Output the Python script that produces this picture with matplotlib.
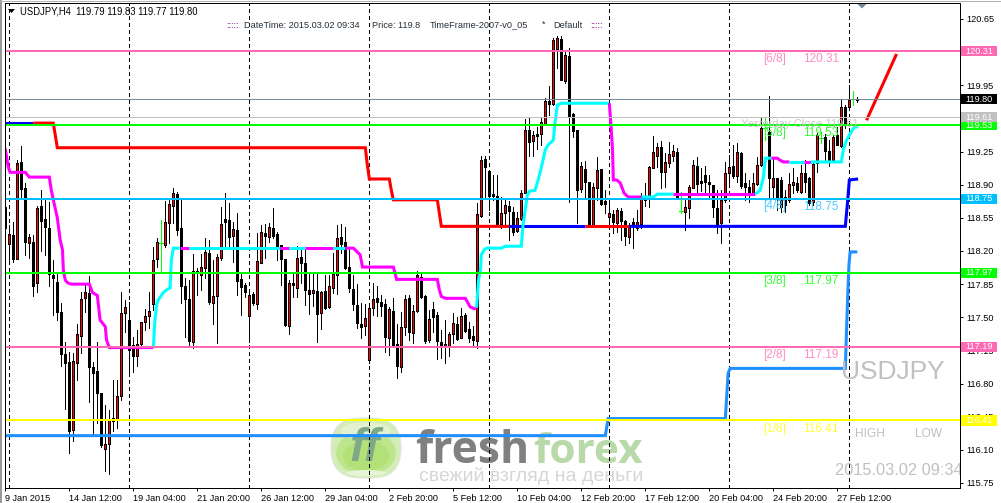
import matplotlib
matplotlib.use('Agg')
import matplotlib.pyplot as plt
import matplotlib.transforms as mtransforms
from matplotlib.patches import Ellipse, Rectangle, Polygon, FancyBboxPatch

plt.rcParams['font.family'] = ['Liberation Sans', 'DejaVu Sans']

# H4 candles
opens = [118.66,118.27,118.37,118.11,119.14,118.86,118.28,118.29,117.86,118.67,
         118.54,118.44,117.95,117.87,117.56,117.11,117.03,116.31,117.02,117.30,
         117.70,117.76,116.97,116.93,116.70,116.11,116.16,116.44,116.41,116.67,
         117.54,117.47,117.21,117.09,117.22,117.45,117.51,117.64,118.11,118.28,
         118.26,118.50,118.67,118.80,118.44,117.83,117.69,117.24,117.99,117.95,
         118.02,118.18,117.65,117.72,118.13,118.54,118.53,118.36,118.42,117.90,
         117.84,117.51,117.75,117.64,118.07,118.39,118.35,118.44,118.38,118.26,
         118.11,117.41,117.86,117.81,118.14,118.07,117.79,117.76,117.78,117.54,
         117.78,117.61,117.81,117.95,118.35,118.29,118.03,117.80,117.63,117.43,
         117.41,117.05,117.60,117.70,117.66,117.64,117.28,117.57,117.22,116.97,
         117.40,117.70,117.33,117.57,117.93,117.72,117.26,117.59,117.52,117.24,
         117.20,117.20,117.32,117.43,117.28,117.52,117.38,117.30,117.25,118.57,
         119.17,119.04,118.80,118.78,118.48,118.60,118.67,118.61,118.41,118.54,
         118.81,119.48,119.36,119.43,119.43,119.54,119.78,119.75,120.33,120.44,
         119.99,120.26,119.65,119.48,118.85,119.07,118.93,118.47,118.86,119.07,
         118.73,118.56,118.59,118.50,118.62,118.52,118.35,118.51,118.44,118.48,
         118.78,118.77,119.08,119.20,119.30,119.03,119.13,119.20,119.24,118.62,
         118.61,118.65,118.86,119.10,118.94,119.00,118.93,118.90,118.65,118.50,
         118.74,119.02,119.10,118.99,119.23,118.92,118.88,118.81,118.91,119.11,
         119.50,119.46,118.88,118.97,118.95,118.77,118.74,118.90,118.92,118.82,
         119.02,118.97,118.72,119.13,119.39,119.40,119.26,119.16,119.42,119.31,
         119.72,119.72,119.80,119.79]
highs = [118.66,118.47,118.51,119.16,119.31,118.92,118.38,118.37,118.67,118.84,
         118.74,118.72,118.10,117.96,117.65,117.24,117.13,117.12,117.43,117.77,
         117.86,117.94,117.03,117.24,116.70,116.57,116.52,116.84,116.84,117.77,
         117.68,117.66,117.29,117.37,117.45,117.59,117.77,118.24,118.34,118.53,
         118.73,118.74,118.86,118.82,118.75,117.91,117.89,118.17,118.02,118.17,
         118.34,118.32,118.10,118.17,118.66,118.81,118.71,118.51,118.60,117.97,
         117.86,117.77,117.77,118.39,118.47,118.48,118.50,118.65,118.40,118.26,
         118.11,117.89,117.97,118.25,118.23,118.21,117.97,117.97,117.97,117.78,
         117.95,117.95,118.18,118.47,118.48,118.45,118.23,117.95,117.85,117.65,
         117.64,117.61,117.86,117.83,117.73,117.69,117.61,117.70,117.43,117.56,
         117.73,117.73,117.63,117.99,117.98,117.73,117.58,117.66,117.56,117.37,
         117.47,117.34,117.54,117.50,117.60,117.54,117.45,117.41,118.71,119.20,
         119.20,119.04,119.00,119.00,118.77,118.76,118.73,118.66,118.61,118.84,
         119.59,119.60,119.47,119.51,119.60,119.82,119.94,120.45,120.47,120.47,
         120.31,120.34,119.66,119.48,119.14,119.15,118.93,118.92,119.19,119.07,
         118.84,118.74,118.63,118.65,118.65,118.53,118.50,118.55,118.63,118.81,
         118.92,119.10,119.41,119.34,119.36,119.23,119.35,119.32,119.29,118.82,
         118.74,118.90,119.16,119.19,119.08,119.10,119.00,118.90,118.84,118.84,
         119.14,119.21,119.32,119.34,119.25,119.02,118.95,119.02,119.19,119.60,
         119.60,119.84,119.19,118.97,118.98,118.84,119.02,119.08,118.98,119.11,
         119.16,118.98,119.14,119.45,119.46,119.43,119.37,119.42,119.51,119.79,
         119.74,119.95,119.89,119.83]
lows = [118.44,118.10,118.08,118.11,118.76,118.16,118.13,117.72,117.77,118.20,
        118.16,117.83,117.52,117.47,116.99,116.53,116.07,116.19,116.84,117.12,
        117.56,116.60,116.26,116.38,116.13,115.88,115.84,116.30,116.33,116.63,
        117.34,116.92,116.92,116.99,117.21,117.37,117.39,117.58,118.03,117.98,
        118.24,118.28,118.50,118.37,117.65,117.29,117.21,117.18,117.73,117.79,
        117.91,117.64,117.43,117.23,118.10,118.23,118.23,118.08,117.73,117.52,
        117.71,117.24,117.63,117.59,118.07,118.13,118.29,118.34,118.10,117.84,
        117.41,117.32,117.71,117.71,117.86,117.63,117.53,117.62,117.24,117.38,
        117.59,117.60,117.76,117.75,118.18,118.01,117.77,117.58,117.39,117.28,
        117.31,117.02,117.52,117.51,117.51,117.13,117.10,117.19,116.86,116.92,
        117.31,117.26,117.23,117.56,117.70,117.23,117.24,117.34,117.06,117.07,
        117.02,117.09,117.23,117.26,117.28,117.34,117.24,117.21,117.18,118.56,
        118.77,118.63,118.74,118.48,118.44,118.45,118.32,118.37,118.40,118.53,
        118.81,119.20,119.20,119.28,119.32,119.53,119.64,119.74,120.13,120.01,
        119.97,118.72,119.40,118.50,118.82,118.76,118.47,118.47,118.74,118.69,
        118.60,118.47,118.39,118.40,118.32,118.26,118.28,118.23,118.42,118.44,
        118.67,118.66,119.08,119.09,118.86,118.88,119.09,119.15,118.76,118.60,
        118.42,118.55,118.86,118.79,118.83,118.82,118.77,118.56,118.39,118.28,
        118.72,118.92,118.97,118.93,118.86,118.74,118.72,118.79,118.90,119.10,
        119.37,118.77,118.77,118.63,118.61,118.61,118.72,118.81,118.82,118.81,
        118.82,118.69,118.69,119.03,119.34,119.16,119.10,119.14,119.32,119.30,
        119.50,119.71,119.74,119.77]
closes = [118.44,118.38,118.11,119.13,118.85,118.29,118.35,117.83,118.65,118.52,
          118.45,117.96,117.91,117.56,117.11,117.02,116.30,117.04,117.32,117.69,
          117.77,116.97,116.91,116.70,116.15,116.16,116.43,116.40,116.67,117.54,
          117.61,117.15,117.09,117.22,117.45,117.51,117.57,118.10,118.29,118.28,
          118.51,118.70,118.81,118.42,117.83,117.69,117.25,117.99,117.98,118.03,
          118.19,117.66,117.72,118.14,118.48,118.51,118.35,118.43,117.88,117.82,
          117.77,117.73,117.65,118.09,118.40,118.36,118.45,118.36,118.25,118.11,
          117.42,117.86,117.84,118.13,118.07,117.79,117.75,117.79,117.53,117.77,
          117.60,117.83,117.96,118.34,118.27,118.02,117.81,117.64,117.44,117.40,
          117.49,117.60,117.69,117.66,117.62,117.29,117.59,117.21,116.99,117.40,
          117.69,117.34,117.57,117.95,117.71,117.25,117.48,117.50,117.25,117.19,
          117.22,117.32,117.44,117.27,117.51,117.35,117.28,117.26,118.59,119.16,
          119.09,118.78,118.78,118.48,118.60,118.69,118.62,118.40,118.55,118.81,
          119.48,119.35,119.42,119.41,119.56,119.78,119.75,120.43,120.45,120.01,
          120.27,119.63,119.47,118.84,119.10,118.93,118.48,118.88,119.05,118.70,
          118.70,118.60,118.51,118.63,118.52,118.36,118.46,118.48,118.51,118.75,
          118.74,119.09,119.25,119.30,119.03,119.14,119.22,119.26,118.77,118.62,
          118.66,118.88,119.11,118.91,118.92,118.93,118.91,118.66,118.48,118.74,
          119.02,119.09,118.99,119.25,118.89,118.88,118.81,118.92,119.11,119.50,
          119.50,118.97,118.97,118.77,118.66,118.69,118.91,118.93,118.84,119.02,
          118.93,118.71,119.12,119.42,119.39,119.26,119.16,119.40,119.32,119.72,
          119.55,119.79,119.80,119.80]

# murrey levels
level_prices = [120.31, 119.53, 118.75, 117.97, 117.19, 116.41]
level_colours = ['#FF69B4', '#00FF00', '#00BFFF', '#00FF00', '#FF69B4', '#FFFF00']
level_names = ['[6/8]', '[5/8]', '[4/8]', '[3/8]', '[2/8]', '[1/8]']
last_price = 119.80
yesterday_close = 119.61

# fast line (magenta falling, cyan rising), each key colours the segment leaving that vertex
fast_i = [0,0.7,1.2,5,6,11,11.5,12,13,13.7,14.3,14.5,15,15.7,16.5,21,21.8,23,23.7,25,25.3,26,
          37,37.4,37.8,38.2,39.5,40.3,41.2,41.5,42,
          43.6,46,68.7,71,75,82,85,
          87,88.7,89.3,90.3,97,97.4,97.8,108,108.5,109,110,115,116.2,117.2,
          117.8,118.3,118.8,119,119.7,120.3,124,125,129,129.4,130.5,131,132.4,133.2,134,135,135.7,137,137.4,138,139,
          151,151.4,151.8,152,152.8,153.7,154.7,155.7,
          159,162,163,
          167,
          187.5,188.7,189.5,190,
          191.5,193,193.6,194.5,
          196,
          199.7,
          201.3,209,209.5,210.3,211.5,212.3,213.2]
fast_p = [119.28,119.09,119.03,119.03,118.98,118.98,118.84,118.74,118.55,118.32,118.21,118.00,117.89,
          117.86,117.85,117.85,117.76,117.73,117.47,117.40,117.26,117.18,
          117.18,117.47,117.63,117.68,117.76,117.79,117.81,118.10,118.23,
          118.23,118.23,118.23,118.23,118.23,118.23,118.23,
          118.23,118.16,118.03,118.03,118.03,117.97,117.90,117.90,117.79,117.72,117.70,117.70,117.61,117.59,
          117.60,117.89,118.00,118.16,118.21,118.23,118.23,118.25,118.25,118.46,118.79,118.83,118.84,118.95,
          119.08,119.27,119.32,119.37,119.55,119.74,119.76,
          119.76,119.53,119.27,118.95,118.95,118.92,118.81,118.77,
          118.77,118.77,118.80,
          118.80,
          118.80,118.84,118.97,119.18,
          119.18,119.18,119.16,119.14,
          119.14,
          119.14,
          119.14,119.14,119.27,119.37,119.46,119.51,119.51]
fast_keys = 'm' * 22 + 'c' * 9 + 'mcmcmcm' + 'm' * 14 + 'c' * 21 + 'm' * 8 + 'c' * 3 + 'm' \
            + 'c' * 4 + 'm' * 4 + 'c' + 'm' + 'c' * 7

# trend line (blue rising, red falling)
slow_i = [0,7,12,12.5,13,90,90.5,91,96,96.5,97,108,108.5,109,126,145,156,210,210.5,211,213.2]
slow_p = [119.55,119.55,119.55,119.42,119.29,119.29,119.11,118.96,118.96,118.84,118.74,118.74,
          118.60,118.46,118.46,118.46,118.46,118.46,118.69,118.95,118.96]
slow_keys = 'b' + 'r' * 13 + 'brb' + 'bbbb'

# lower step line
step_i = [0,150,150.7,180,180.7,181.2,210,210.3,210.6,210.9,211.2,213]
step_p = [116.25,116.25,116.43,116.43,116.91,116.96,116.96,117.37,117.73,118.05,118.19,118.19]

# red projection stroke on the right
arrow_i = [215.3, 222.8]
arrow_p = [119.58, 120.28]

# bars where a daily separator sits, bars with a date label
separators = [1, 31, 61, 91, 121, 151, 181, 211]
date_ticks = [0, 16, 32, 48, 64, 80, 96, 112, 128, 144, 160, 176, 192, 208]
date_labels = ['9 Jan 2015', '14 Jan 12:00', '19 Jan 04:00', '21 Jan 20:00', '26 Jan 12:00',
               '29 Jan 04:00', '2 Feb 20:00', '5 Feb 12:00', '10 Feb 04:00', '12 Feb 20:00',
               '17 Feb 12:00', '20 Feb 04:00', '24 Feb 20:00', '27 Feb 12:00']
price_ticks = [120.65, 120.30, 119.95, 119.60, 119.25, 118.90, 118.55, 118.20,
               117.85, 117.50, 117.15, 116.80, 116.45, 116.10, 115.75]

W, H = 1001, 503
fig = plt.figure(figsize=(W / 100, H / 100), dpi=100)
ax = fig.add_axes([5 / W, 1 - 488.3 / H, 954.5 / W, 484.8 / H])
ax.set_xlim(-0.08, 238.54)
ax.set_ylim(115.694, 120.813)

# pixel coordinates for the layout pieces, y counted from the top like a screenshot
px = mtransforms.Affine2D().scale(1 / W, -1 / H).translate(0, 1) + fig.transFigure
px_price = mtransforms.blended_transform_factory(px, ax.transData)

lw1 = 0.72  # one pixel

# frame bits around the chart
fig.add_artist(Rectangle((0, 0), 1.5, 503, transform=px, color='#9a9a9a', lw=0))
fig.add_artist(Rectangle((0, 0.5), 1001, 1, transform=px, color='#b0b0b0', lw=0))

for s in ax.spines.values():
    s.set_linewidth(lw1)
    s.set_zorder(6)

# watermark logo sits under everything
ball = FancyBboxPatch((346, 433), 40, 30, boxstyle='round,pad=15,rounding_size=29', transform=px,
                      facecolor='#d3ecb8', edgecolor='#e4e4e4', lw=0.7, zorder=0.5)
ax.add_patch(ball)
ax.add_patch(Ellipse((366, 453), 60, 44, transform=px, color='#bde58c', lw=0, zorder=0.52))
ax.add_patch(Ellipse((366, 456), 46, 30, transform=px, color='#b4e177', lw=0, zorder=0.53))
ax.add_patch(Ellipse((366, 431), 50, 18, transform=px, color='#e2f1d0', lw=0, zorder=0.54))
ax.add_patch(Ellipse((366, 473), 40, 6, transform=px, color='#e6f5d6', lw=0, zorder=0.54))
ax.text(365, 449, 'ff', transform=px, fontsize=34, style='italic', weight='bold', family='Liberation Sans',
        color='#7fa889', ha='center', va='center', zorder=0.6)
ax.text(415, 463, 'fresh', transform=px, fontsize=32, weight='bold', family='Open Sans', color='#808080',
        ha='left', va='baseline', zorder=0.6)
ax.text(533, 463, 'forex', transform=px, fontsize=30.5, weight='bold', family='Open Sans', color='#b9d9a8',
        ha='left', va='baseline', zorder=0.6)
ax.text(419, 476, 'свежий взгляд на деньги', transform=px, fontsize=14, family='Liberation Sans',
        color='#d6d6d6', ha='left', va='center', zorder=0.6)

# daily separators
for b in separators:
    ax.axvline(b, color='black', lw=lw1, ls=(0, (3, 3)), zorder=1, antialiased=False)

# candles
for i in range(len(opens)):
    if opens[i] == closes[i]:
        ax.vlines(i, lows[i], highs[i], color='#00FF00', lw=lw1, zorder=2, antialiased=False)
        ax.hlines(opens[i], i - 0.5, i + 0.5, color='#00FF00', lw=lw1, zorder=2, antialiased=False)
        continue
    ax.vlines(i, lows[i], highs[i], color='black', lw=lw1, zorder=2, antialiased=False)
    face = '#FF0000' if closes[i] > opens[i] else 'black'
    ax.bar(i, abs(closes[i] - opens[i]), bottom=min(opens[i], closes[i]), width=0.5, facecolor=face,
           edgecolor='black', linewidth=lw1, zorder=2.1, antialiased=False)


def draw_runs(xs, ys, keys, colours, width, zorder):
    # split a vertex list wherever its colour key changes
    start = 0
    for k in range(1, len(xs)):
        if k == len(xs) - 1 or keys[k] != keys[start]:
            ax.plot(xs[start:k + 1], ys[start:k + 1], color=colours[keys[start]], lw=width,
                    solid_capstyle='butt', solid_joinstyle='miter', zorder=zorder)
            start = k


draw_runs(slow_i, slow_p, slow_keys, {'b': '#0000FF', 'r': '#FF0000'}, 2.2, 3)
draw_runs(fast_i, fast_p, fast_keys, {'m': '#FF00FF', 'c': '#00FFFF'}, 2.2, 3)
ax.plot(step_i, step_p, color='#1E90FF', lw=2.2, solid_capstyle='butt', solid_joinstyle='miter', zorder=3)
ax.plot(arrow_i, arrow_p, color='#FF0000', lw=2.2, solid_capstyle='butt', zorder=3)

# horizontal levels
ax.axhline(last_price, color='#778899', lw=lw1, zorder=3.2, antialiased=False)
ax.axhline(yesterday_close, color='#C0C0C0', lw=lw1, zorder=3.2, antialiased=False)
for p, c in zip(level_prices, level_colours):
    ax.axhline(p, color=c, lw=1.44, zorder=3.3)

# texts next to the levels
pale = {'#FF69B4': '#FF8CC6', '#00FF00': '#33FF33', '#00BFFF': '#4CCBFF', '#FFFF00': '#FFFF33'}
level_text_y = [59, 133, 206.5, 281, 355, 429]
for p, c, n, yy in zip(level_prices, level_colours, level_names, level_text_y):
    ax.text(763, yy, n, transform=px, color=pale[c], fontsize=8.5, va='center', ha='left', zorder=4)
    ax.text(803, yy, '%.2f' % p, transform=px, color=pale[c], fontsize=8.5, va='center', ha='left', zorder=4)

ax.text(741, 124, 'Yesterday Close %.2f' % yesterday_close, transform=px, color='#C8C8C8', fontsize=8,
        va='center', ha='left', zorder=4)
ax.text(841, 372, 'USDJPY', transform=px, color='#C0C0C0', fontsize=19, va='center', ha='left', zorder=4)
ax.text(855, 434, 'HIGH', transform=px, color='#C0C0C0', fontsize=8.6, va='center', ha='left', zorder=4)
ax.text(915, 434, 'LOW', transform=px, color='#C0C0C0', fontsize=8.6, va='center', ha='left', zorder=4)
ax.text(835, 471, '2015.03.02 09:34', transform=px, color='#C0C0C0', fontsize=11.8, va='center', ha='left',
        zorder=4, clip_on=True)

# header lines
ax.add_patch(Polygon([(8, 9), (15, 9), (11.5, 13)], transform=px, color='black', lw=0, zorder=5))
ax.text(20, 11.5, 'USDJPY,H4  119.79 119.83 119.77 119.80', transform=px, fontsize=6.85, color='black',
        va='center', ha='left', zorder=5)
head = '#25303a'
ax.text(226, 25, ':::::', transform=px, fontsize=6.6, color='#800080', va='center', ha='left', zorder=5)
ax.text(243.5, 25, 'DateTime: 2015.03.02 09:34', transform=px, fontsize=6.6, color=head, va='center', ha='left', zorder=5)
ax.text(372, 25, 'Price: 119.8', transform=px, fontsize=6.6, color=head, va='center', ha='left', zorder=5)
ax.text(429.5, 25, 'TimeFrame-2007-v0_05', transform=px, fontsize=6.6, color=head, va='center', ha='left', zorder=5)
ax.text(542, 24, '*', transform=px, fontsize=6.6, color=head, va='center', ha='left', zorder=5)
ax.text(553.5, 25, 'Default', transform=px, fontsize=6.6, color=head, va='center', ha='left', zorder=5)
ax.text(590, 25, ':::::', transform=px, fontsize=6.6, color='#800080', va='center', ha='left', zorder=5)

# grey marker at the top
ax.add_patch(Polygon([(857.5, 4), (866.5, 4), (862, 8.5)], transform=px, color='#778899', lw=0, zorder=5))

# axes
ax.set_xticks(date_ticks)
ax.set_xticklabels(date_labels, ha='left', fontsize=6.6)
ax.tick_params(axis='x', length=2.2, width=lw1, pad=1.6)
ax.yaxis.tick_right()
ax.set_yticks(price_ticks)
ax.set_yticklabels(['%.2f' % t for t in price_ticks], fontsize=6.6)
ax.tick_params(axis='y', length=2.2, width=lw1, pad=2.6)

# price tags on the right edge; the silver tag covers the green one
tags = list(zip(level_prices, level_colours))
tags += [(yesterday_close, '#C0C0C0'), (last_price, 'black')]
tag_half = 0.053
for p, c in tags:
    ax.add_patch(Rectangle((960.5, p - tag_half), 36, 2 * tag_half, transform=px_price, color=c, lw=0,
                           clip_on=False, zorder=7))
    ax.text(965.7, p, '%.2f' % p, transform=px_price, fontsize=6.6, color='white', va='center', ha='left',
            clip_on=False, zorder=7)

fig.savefig('out.png', dpi=100)
